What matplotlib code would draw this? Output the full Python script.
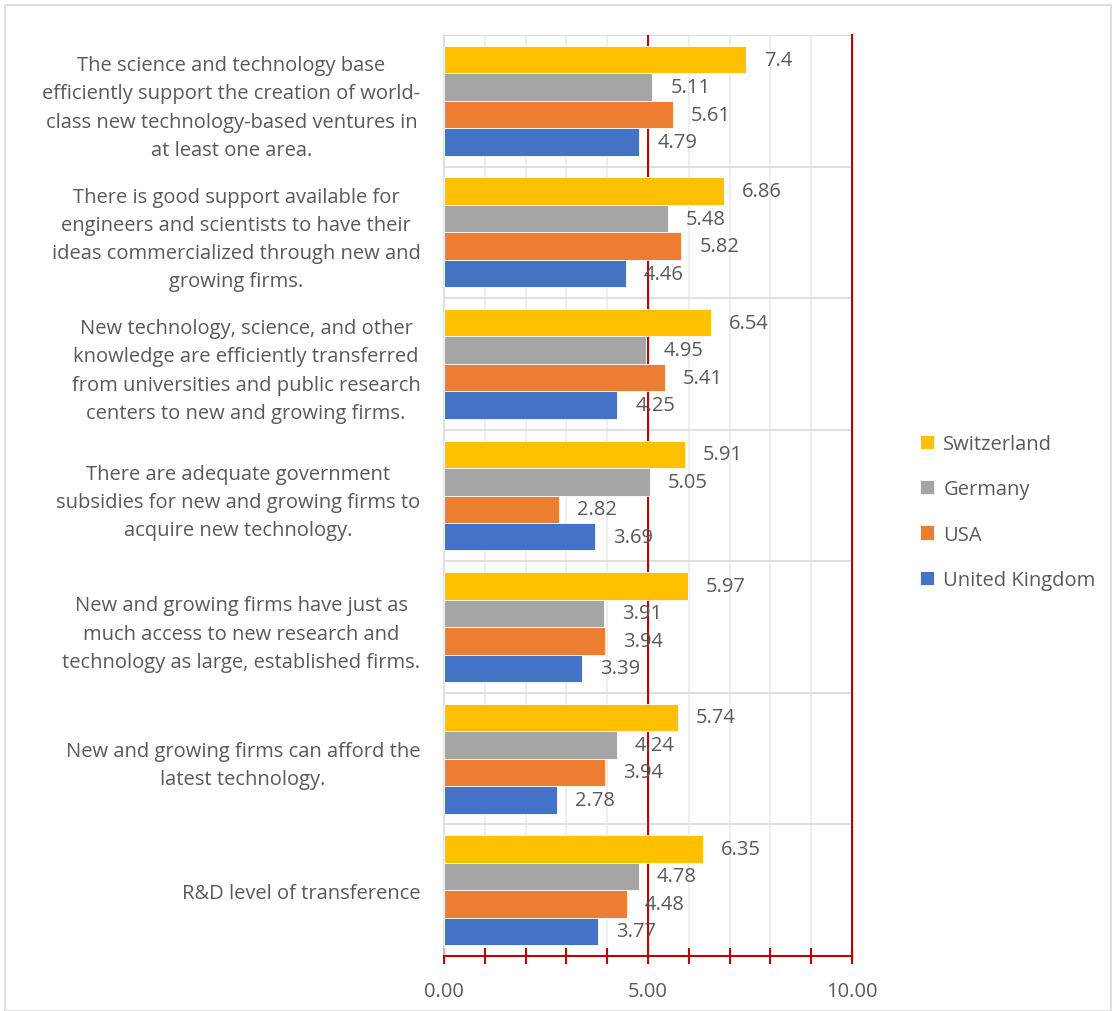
import numpy as np
import matplotlib.pyplot as plt
from matplotlib.patches import Rectangle
from matplotlib.ticker import MultipleLocator, FixedLocator

plt.rcParams['font.family'] = ['Open Sans', 'DejaVu Sans']

# Data
categories = [
    "The science and technology base\nefficiently support the creation of world-\nclass new technology-based ventures in\nat least one area.",
    "There is good support available for\nengineers and scientists to have their\nideas commercialized through new and\ngrowing firms.",
    "New technology, science, and other\nknowledge are efficiently transferred\nfrom universities and public research\ncenters to new and growing firms.",
    "There are adequate government\nsubsidies for new and growing firms to\nacquire new technology.",
    "New and growing firms have just as\nmuch access to new research and\ntechnology as large, established firms.",
    "New and growing firms can afford the\nlatest technology.",
    "R&D level of transference",
]
series = ["Switzerland", "Germany", "USA", "United Kingdom"]
switzerland = [7.4, 6.86, 6.54, 5.91, 5.97, 5.74, 6.35]
germany = [5.11, 5.48, 4.95, 5.05, 3.91, 4.24, 4.78]
usa = [5.61, 5.82, 5.41, 2.82, 3.94, 3.94, 4.48]
uk = [4.79, 4.46, 4.25, 3.69, 3.39, 2.78, 3.77]
colors = ["#FFC000", "#A5A5A5", "#ED7D31", "#4472C4"]

text_col = "#595959"
red = "#C00000"
fs = 14.5

fig = plt.figure(figsize=(11.16, 10.12), dpi=100)
ax = fig.add_axes([444/1116, 1-957/1012, (852-444)/1116, (957-36)/1012])

y = np.arange(len(categories))
h = 0.209
for i, (name, vals, c) in enumerate(zip(series, [switzerland, germany, usa, uk], colors)):
    pos = y + (i - 1.5) * h
    ax.barh(pos, vals, height=h, color=c, edgecolor='white', linewidth=0.6,
            label=name, zorder=3)
    for p, v in zip(pos, vals):
        ax.annotate(f"{v:g}", (v, p), xytext=(13, 0), textcoords='offset points',
                    va='center', ha='left', fontsize=fs, color=text_col, zorder=4)

ax.set_xlim(0, 10)
ax.set_ylim(len(categories) - 0.5, -0.5)
ax.set_yticks(y)
ax.set_yticklabels(categories, fontsize=fs, color=text_col, multialignment='center',
                   linespacing=1.55)
ax.tick_params(axis='y', length=0, pad=17)
ax.yaxis.set_minor_locator(FixedLocator(np.arange(-0.5, len(categories), 1)))
ax.tick_params(axis='y', which='minor', length=0)
ax.grid(axis='y', which='minor', color='#D9D9D9', linewidth=1.2, zorder=0)

ax.xaxis.set_minor_locator(MultipleLocator(1))
ax.set_xticks([0, 5, 10])
ax.set_xticklabels(["0.00", "5.00", "10.00"])
ax.tick_params(axis='x', which='both', direction='inout', color=red, width=1.5,
               length=12, labelsize=fs, labelcolor=text_col, pad=12)
ax.grid(axis='x', which='minor', color='#EBEBEB', linewidth=1.2, zorder=0)
ax.axvline(5, color=red, linewidth=1.5, zorder=2)
ax.axvline(10, color=red, linewidth=1.5, zorder=2, clip_on=False)

for s in ['top', 'right']:
    ax.spines[s].set_visible(False)
ax.spines['left'].set_color('#D9D9D9')
ax.spines['left'].set_linewidth(1.2)
ax.spines['bottom'].set_color(red)
ax.spines['bottom'].set_linewidth(1.5)
ax.axhline(-0.5, color='#D9D9D9', linewidth=1.2, zorder=1)

leg = fig.legend(loc='center left', bbox_to_anchor=(902/1116, 1-513/1012), frameon=False,
                 fontsize=fs, labelspacing=1.25, handlelength=0.7, handleheight=0.7,
                 handletextpad=0.45)
for t in leg.get_texts():
    t.set_color(text_col)

fig.patches.append(Rectangle((5/1116, 0), 1-10/1116, 1-6/1012, transform=fig.transFigure,
                             fill=False, edgecolor='#D9D9D9', linewidth=1.2))

fig.savefig("out.png", dpi=100)
